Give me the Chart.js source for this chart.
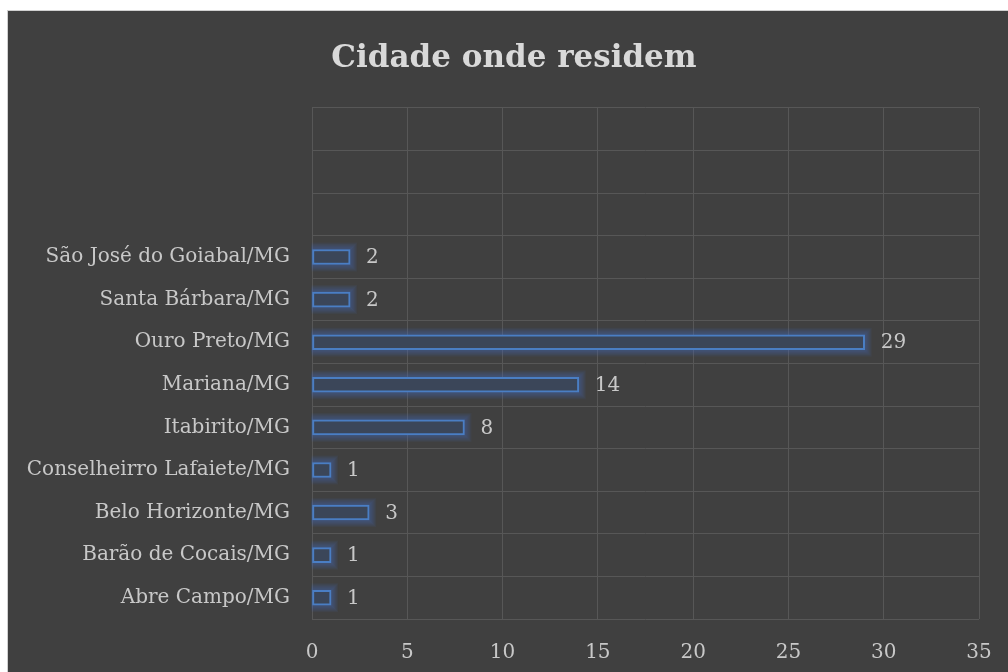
<!DOCTYPE html>
<html>
<head>
<meta charset="utf-8">
<script src="https://cdn.jsdelivr.net/npm/chart.js@4.4.1/dist/chart.umd.min.js"></script>
<style>
  html, body { margin: 0; padding: 0; background: #ffffff; }
  #wrap {
    position: absolute; left: 7px; top: 10px;
    width: 1001px; height: 662px;
    background: #404040;
    border-left: 1px solid #d0d0d0; border-top: 1px solid #d0d0d0;
  }
</style>
</head>
<body>
<div id="wrap"><canvas id="grafico" width="1000" height="661"></canvas></div>
<script>
// categorias (as 3 primeiras estao vazias no original)
const cidades = ['', '', '', 'São José do Goiabal/MG', 'Santa Bárbara/MG', 'Ouro Preto/MG', 'Mariana/MG',
    'Itabirito/MG', 'Conselheirro Lafaiete/MG', 'Belo Horizonte/MG', 'Barão de Cocais/MG', 'Abre Campo/MG'];
const quantidade = [null, null, null, 2, 2, 29, 14, 8, 1, 3, 1, 1];
const eixoMax = 35;
const eixoPasso = 5;
const titulo = 'Cidade onde residem';

const fonte = "'DejaVu Serif', 'Liberation Serif', serif";
const corTexto = '#c8c8c8';

// titulo desenhado a mao para ficar centrado no quadro todo
const tituloPlugin = {
    id: 'tituloPlugin',
    afterDraw(chart) {
        const ctx = chart.ctx;
        ctx.save();
        ctx.font = 'bold 31px ' + fonte;
        ctx.fillStyle = '#d9d9d9';
        ctx.textAlign = 'center';
        ctx.textBaseline = 'alphabetic';
        ctx.fillText(titulo, 506, 56);
        ctx.restore();
    }
};

// brilho azul em volta das barras (camadas transparentes)
const brilho = {
    id: 'brilho',
    beforeDatasetsDraw(chart) {
        const ctx = chart.ctx;
        const meta = chart.getDatasetMeta(0);
        ctx.save();
        ctx.fillStyle = 'rgba(70,120,205,0.07)';
        meta.data.forEach((bar, i) => {
            if (quantidade[i] === null) return;
            const p = bar.getProps(['x', 'y', 'base', 'height'], true);
            const top = p.y - p.height / 2;
            for (let k = 7; k >= 1; k--) {
                ctx.fillRect(p.base - 1, top - k, p.x - p.base + 1 + k, p.height + 2 * k);
            }
        });
        ctx.restore();
    }
};

// rotulos de valor ao lado das barras
const rotulos = {
    id: 'rotulos',
    afterDatasetsDraw(chart) {
        const ctx = chart.ctx;
        const meta = chart.getDatasetMeta(0);
        ctx.save();
        ctx.font = '20px ' + fonte;
        ctx.fillStyle = corTexto;
        ctx.textAlign = 'left';
        ctx.textBaseline = 'middle';
        meta.data.forEach((bar, i) => {
            const v = quantidade[i];
            if (v === null) return;
            ctx.fillText(String(v), bar.x + 16, bar.y + 1);
        });
        ctx.restore();
    }
};

const ctx = document.getElementById('grafico').getContext('2d');
new Chart(ctx, {
    type: 'bar',
    data: {
        labels: cidades,
        datasets: [{
            data: quantidade,
            backgroundColor: '#3b4659',
            borderColor: '#4a7ec4',
            borderWidth: 2,
            borderSkipped: false,
            barThickness: 15
        }]
    },
    options: {
        indexAxis: 'y',
        responsive: false,
        animation: false,
        layout: { padding: { left: 0, right: 29, top: 97, bottom: 9 } },
        plugins: {
            legend: { display: false },
            tooltip: { enabled: false },
            title: { display: false }
        },
        scales: {
            x: {
                min: 0,
                max: eixoMax,
                afterFit(scale) {
                    scale.height = 44;
                    scale.paddingRight = 0;
                    scale.paddingLeft = 0;
                },
                ticks: {
                    stepSize: eixoPasso,
                    color: corTexto,
                    font: { family: fonte, size: 20 },
                    padding: 22
                },
                grid: { color: '#575757', lineWidth: 1, drawTicks: false },
                border: { display: false }
            },
            y: {
                afterFit(scale) { scale.width = 304; },
                ticks: {
                    color: corTexto,
                    font: { family: fonte, size: 20 },
                    padding: 22
                },
                grid: { color: '#575757', lineWidth: 1, drawTicks: false, offset: true },
                border: { display: false }
            }
        }
    },
    plugins: [brilho, rotulos, tituloPlugin]
});
</script>
</body>
</html>
